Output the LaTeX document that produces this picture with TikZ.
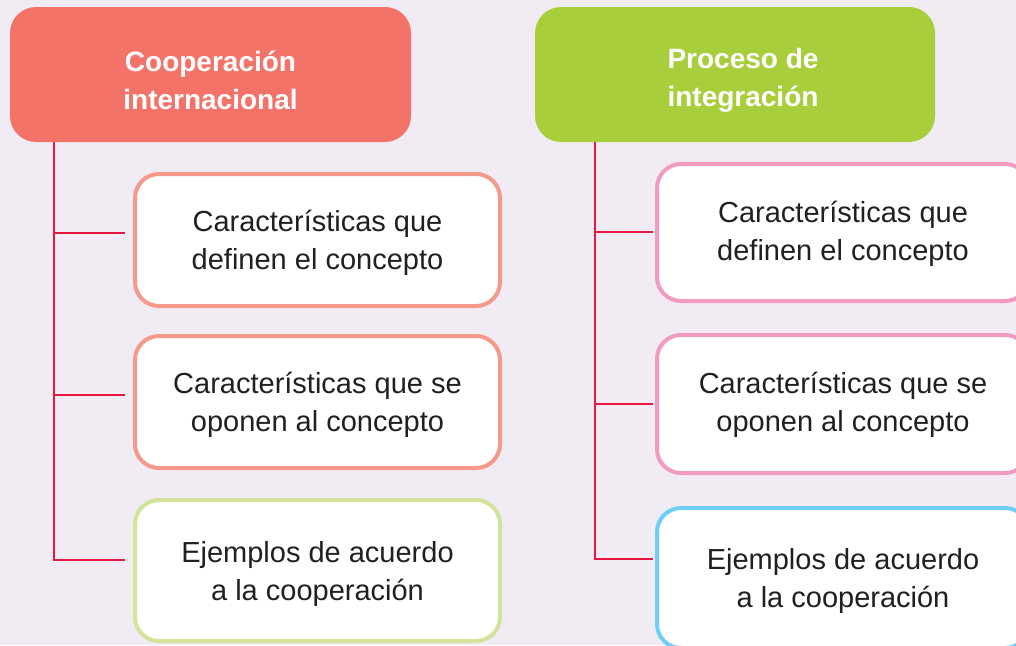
\documentclass[tikz,border=0pt]{standalone}
\usepackage{fontspec}
\setmainfont{Liberation Sans}
\definecolor{bg}{HTML}{F1ECF4}
\definecolor{hred}{HTML}{F37369}
\definecolor{hgreen}{HTML}{A8CF3B}
\definecolor{bsalmon}{HTML}{F59A8A}
\definecolor{blgreen}{HTML}{D4E39A}
\definecolor{bpink}{HTML}{F29BC1}
\definecolor{bblue}{HTML}{6DCFF6}
\definecolor{lred}{HTML}{E8173F}
\definecolor{txt}{HTML}{231F20}
\begin{document}
\begin{tikzpicture}[x=1pt,y=-1pt,
  header/.style={rectangle, rounded corners=26pt, minimum width=401pt, minimum height=135pt, inner sep=0pt},
  headtext/.style={text=white, align=center, font=\fontsize{28}{38}\selectfont\bfseries, inner sep=0pt},
  itembox/.style={rectangle, rounded corners=24pt, draw=#1, line width=4pt, fill=white, inner sep=0pt},
  itemtext/.style={text=txt, align=center, font=\fontsize{29}{38}\selectfont, inner sep=0pt},
  conn/.style={draw=lred, line width=2.3pt}
]
\useasboundingbox (0,0) rectangle (1016,645);
\fill[bg] (0,0) rectangle (1016,645);
\begin{scope}
\clip (0,0) rectangle (1016,645);
% headers
\node[header, fill=hred] (h1) at (210.5,74.5) {};
\node[headtext] (h1t) at (210.5,80) {Cooperación\\internacional};
\node[header, fill=hgreen, minimum width=400pt] (h2) at (735,74.5) {};
\node[headtext] (h2t) at (743,80) {Proceso de\\integración};
% left boxes
\node[itembox=bsalmon, minimum width=365pt, minimum height=132pt] (l1) at (317.5,240) {};
\node[itemtext] (l1t) at (317.5,243) {Características que\\definen el concepto};
\node[itembox=bsalmon, minimum width=365pt, minimum height=132pt] (l2) at (317.5,402) {};
\node[itemtext] (l2t) at (317.5,405) {Características que se\\oponen al concepto};
\node[itembox=blgreen, minimum width=365pt, minimum height=141pt] (l3) at (317.5,570.5) {};
\node[itemtext] (l3t) at (317.5,574) {Ejemplos de acuerdo\\a la cooperación};
% right boxes
\node[itembox=bpink, minimum width=372pt, minimum height=137pt] (r1) at (843,232.5) {};
\node[itemtext] (r1t) at (843,234) {Características que\\definen el concepto};
\node[itembox=bpink, minimum width=372pt, minimum height=138pt] (r2) at (843,404) {};
\node[itemtext] (r2t) at (843,405) {Características que se\\oponen al concepto};
\node[itembox=bblue, minimum width=372pt, minimum height=140pt] (r3) at (843,578) {};
\node[itemtext] (r3t) at (843,581) {Ejemplos de acuerdo\\a la cooperación};
% connectors left
\coordinate (lt) at (54,142);
\coordinate (lj1) at (54,233);
\coordinate (lj2) at (54,395);
\coordinate (lj3) at (54,560);
\draw[conn] (lt) -- (lj3) -- ([xshift=-8pt]lj3 -| l3.west);
\draw[conn] (lj1) -- ([xshift=-8pt]lj1 -| l1.west);
\draw[conn] (lj2) -- ([xshift=-8pt]lj2 -| l2.west);
% connectors right
\coordinate (rt) at (595,142);
\coordinate (rj1) at (595,232);
\coordinate (rj2) at (595,404);
\coordinate (rj3) at (595,559);
\draw[conn] (rt) -- (rj3) -- ([xshift=-2pt]rj3 -| r3.west);
\draw[conn] (rj1) -- ([xshift=-2pt]rj1 -| r1.west);
\draw[conn] (rj2) -- ([xshift=-2pt]rj2 -| r2.west);
\end{scope}
\end{tikzpicture}
\end{document}
